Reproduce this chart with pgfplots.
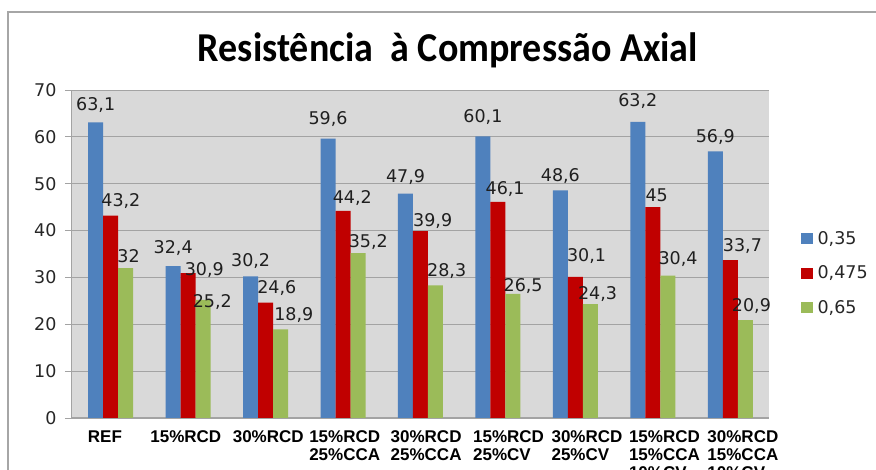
\documentclass[border=0pt]{standalone}
\usepackage{pgfplots}
\usepackage{pgfplotstable}
\pgfplotsset{compat=1.18}
\usepackage{fontspec}
\setmainfont{DejaVu Sans}
\newfontfamily\titlefont{Carlito}
\newfontfamily\catfont{Liberation Sans}

\definecolor{serA}{HTML}{4F81BD}
\definecolor{serB}{HTML}{C00000}
\definecolor{serC}{HTML}{9BBB59}
\definecolor{plotbg}{HTML}{D9D9D9}
\definecolor{gridgray}{HTML}{A3A3A3}
\definecolor{framegray}{HTML}{A6A6A6}

% compressive strength per mix; a/b/c = w/c ratio 0,35 / 0,475 / 0,65
% ady, bdx, bdy, cdx, cdy: placement of the value labels (pt)
\pgfplotstableread{
x a    ady b    bdx bdy c    cdx cdy
0 63.1 12  43.2 -1  9   32   0   5
1 32.4 12  30.9 5   -2  25.2 -2  -8
2 30.2 10  24.6 0   9   18.9 2   9
3 59.6 14  44.2 -2  7   35.2 -1  5
4 47.9 11  39.9 1   4   28.3 0   9
5 60.1 14  46.1 -4  7   26.5 -1  2
6 48.6 9   30.1 0   15  24.3 -4  4
7 63.2 15  45   1   5   30.4 -1  11
8 56.9 9   33.7 1   8   20.9 -5  8
}\resist

% category label, shifted right by #1 pt
\newcommand\xl[2]{\hspace*{#1pt}\begin{tabular}{@{}l@{}}#2\end{tabular}}

\begin{document}
\begin{tikzpicture}
\useasboundingbox (0pt,0pt) rectangle (876pt,470pt);
\draw[framegray, line width=2pt] (8pt,-10pt) rectangle (890pt,458pt);

\node[font=\titlefont\bfseries\fontsize{38}{44}\selectfont, anchor=base, yscale=1.08]
  at (448pt,408pt) {Resistência\ \ à Compressão Axial};

\begin{axis}[
  at={(72pt,52pt)}, anchor=south west,
  scale only axis, width=697pt, height=328pt,
  xmin=-0.5, xmax=8.5, ymin=0, ymax=70,
  ybar=0pt, bar width=15pt,
  axis background/.style={fill=plotbg},
  axis x line*=bottom, axis y line*=left,
  axis line style={-, gridgray, line width=1pt},
  ymajorgrids, grid style={gridgray, line width=0.9pt},
  ytick={0,10,...,70},
  tick align=outside, major tick length=7pt,
  ytick style={gridgray, line width=0.9pt},
  xtick={0,...,8}, xtick style={draw=none},
  /pgf/number format/assume math mode=true,
  /pgf/number format/use comma,
  yticklabel style={font=\fontsize{17.5}{20}\selectfont, text=black!85, xshift=-5pt},
  xticklabels={
    \xl{15}{REF},
    \xl{0}{15\%RCD},
    \xl{5}{30\%RCD},
    \xl{4}{15\%RCD\\25\%CCA},
    \xl{8}{30\%RCD\\25\%CCA},
    \xl{13}{15\%RCD\\25\%CV},
    \xl{14}{30\%RCD\\25\%CV},
    \xl{14}{15\%RCD\\15\%CCA\\10\%CV},
    \xl{15}{30\%RCD\\15\%CCA\\10\%CV}},
  xticklabel style={anchor=north west, inner sep=0pt, xshift=-38pt, yshift=-5pt,
    font=\catfont\bfseries\fontsize{17}{18}\selectfont},
  nodes near coords,
  every node near coord/.append style={font=\fontsize{17.5}{20}\selectfont,
    inner sep=0pt, text depth=0pt, text=black!88},
  legend cell align=left,
  legend style={draw=none, fill=none, at={(1.045,0.442)}, anchor=west,
    font=\fontsize{17.5}{20}\selectfont, text=black!85, row sep=20pt,
    inner sep=0pt, nodes={inner sep=0pt},
    /tikz/every odd column/.append style={column sep=5pt}},
  legend image code/.code={\fill[#1] (0pt,-5.5pt) rectangle (12pt,5.5pt);},
]
\addplot[fill=serA, draw=none,
  visualization depends on={\thisrow{ady} \as \dy},
  every node near coord/.append style={anchor=south, yshift={\dy*1pt}}]
  table[x=x, y=a] {\resist};
\addlegendentry{0,35}
\addplot[fill=serB, draw=none,
  visualization depends on={\thisrow{bdx} \as \dx},
  visualization depends on={\thisrow{bdy} \as \dy},
  every node near coord/.append style={anchor=south west,
    xshift={\dx*1pt-8.5pt}, yshift={\dy*1pt}}]
  table[x=x, y=b] {\resist};
\addlegendentry{0,475}
\addplot[fill=serC, draw=none,
  visualization depends on={\thisrow{cdx} \as \dx},
  visualization depends on={\thisrow{cdy} \as \dy},
  every node near coord/.append style={anchor=south west,
    xshift={\dx*1pt-8.5pt}, yshift={\dy*1pt}}]
  table[x=x, y=c] {\resist};
\addlegendentry{0,65}
\end{axis}
\end{tikzpicture}
\end{document}
